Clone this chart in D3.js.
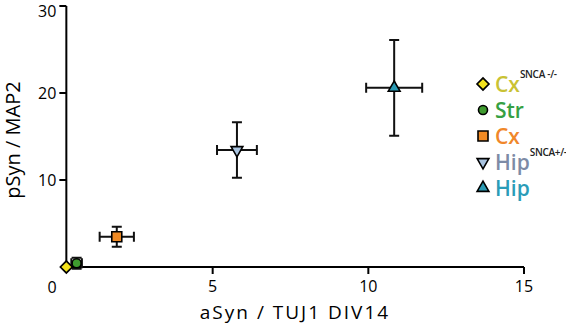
<!DOCTYPE html>
<html><head><meta charset="utf-8">
<script src="https://cdn.jsdelivr.net/npm/d3@7"></script>
<style>body{margin:0;background:#fff}svg{display:block}text{font-family:"Open Sans",sans-serif}</style>
</head><body><svg id="c" width="566" height="325"></svg>
<script>
const groups = ["CxSNCA", "Str", "Cx", "HipSNCA", "Hip"];
const labels = ["Cx", "Str", "Cx", "Hip", "Hip"];
const superscripts = ["SNCA -/-", "", "", "SNCA+/-", ""];
const xVals = [0.3, 0.63, 1.92, 5.78, 10.83];
const yVals = [0.0, 0.43, 3.48, 13.45, 20.6];
const xErr = [0, 0.17, 0.55, 0.64, 0.9];
const yErr = [0, 0.62, 1.15, 3.2, 5.5];
const xTicks = [5, 10, 15];
const yTicks = [10, 20, 30];
const fills = ["#f3e21c", "#3f9b2f", "#f08a24", "#a9c3df", "#2b9ab3"];
const textColors = ["#c9c234", "#36a043", "#f0872a", "#7d8ba6", "#2a9cb8"];
const shapes = ["diamond", "circle", "square", "triDown", "triUp"];

const svg = d3.select("#c");
const x = d3.scaleLinear().domain([0, 15]).range([57, 524]);
const y = d3.scaleLinear().domain([0, 30]).range([267, 6]);
const yAxisAt = 0.3;

// axes
const gx = svg.append("g").attr("transform", `translate(0,${y(0)})`);
gx.append("line").attr("x1", x(yAxisAt)).attr("x2", x(15)).attr("stroke", "#000").attr("stroke-width", 2);
gx.selectAll("line.t").data(xTicks).join("line").attr("class","t")
  .attr("x1", d => x(d)).attr("x2", d => x(d)).attr("y1", 0).attr("y2", 7)
  .attr("stroke", "#000").attr("stroke-width", 2);
gx.selectAll("text").data(xTicks).join("text")
  .attr("x", d => x(d)).attr("y", 25).attr("text-anchor", "middle")
  .attr("font-size", 16).text(d => d);

const gy = svg.append("g").attr("transform", `translate(${x(yAxisAt)},0)`);
gy.append("line").attr("y1", y(0)).attr("y2", y(30)).attr("stroke", "#000").attr("stroke-width", 2);
gy.selectAll("line.t").data(yTicks).join("line").attr("class","t")
  .attr("y1", d => y(d)).attr("y2", d => y(d)).attr("x1", 0).attr("x2", -7)
  .attr("stroke", "#000").attr("stroke-width", 2);
gy.selectAll("text").data(yTicks).join("text")
  .attr("x", -10).attr("y", d => y(d)).attr("dy", d => d === 30 ? "0.7em" : "0.36em").attr("text-anchor", "end")
  .attr("font-size", 16).text(d => d);

svg.append("text").attr("x", 52).attr("y", 293).attr("text-anchor", "middle").attr("font-size", 16).text("0");

svg.append("text").attr("x", 295).attr("y", 319).attr("text-anchor", "middle")
  .attr("font-size", 19).attr("letter-spacing", 2).text("aSyn / TUJ1 DIV14");
svg.append("text").attr("transform", "translate(20,140) rotate(-90)").attr("text-anchor", "middle")
  .attr("font-size", 20).text("pSyn / MAP2");

function symPath(s) {
  const m = {diamond: [d3.symbolSquare, 72], circle: [d3.symbolCircle, 64], square: [d3.symbolSquare, 100],
             triDown: [d3.symbolTriangle, 60], triUp: [d3.symbolTriangle, 60]};
  return d3.symbol(m[s][0], m[s][1])();
}
function symRot(s) { return s === "diamond" ? 45 : s === "triDown" ? 180 : 0; }

// error bars
const cap = 5;
const data = groups.map((g, i) => ({i, x: xVals[i], y: yVals[i], ex: xErr[i], ey: yErr[i]}));
const eb = svg.append("g").attr("stroke", "#111").attr("stroke-width", 2).attr("fill", "none");
data.filter(d => d.ex > 0 || d.ey > 0).forEach(d => {
  const cx = x(d.x), cy = y(d.y);
  const xl = x(d.x - d.ex), xr = x(d.x + d.ex), yt = y(d.y + d.ey), yb = y(d.y - d.ey);
  eb.append("path").attr("d",
    `M${xl},${cy}H${xr}M${xl},${cy-cap}V${cy+cap}M${xr},${cy-cap}V${cy+cap}` +
    `M${cx},${yt}V${yb}M${cx-cap},${yt}H${cx+cap}M${cx-cap},${yb}H${cx+cap}`);
});

// markers
svg.append("g").selectAll("path").data(data).join("path")
  .attr("d", d => symPath(shapes[d.i]))
  .attr("transform", d => `translate(${x(d.x)},${y(d.y)}) rotate(${symRot(shapes[d.i])})`)
  .attr("fill", d => fills[d.i]).attr("stroke", "#000").attr("stroke-width", 1.6);

// legend
const lg = svg.append("g");
const legY = d3.scaleLinear().domain([0, 4]).range([84, 188]);
groups.forEach((g, i) => {
  const yy = legY(i);
  lg.append("path").attr("d", symPath(shapes[i]))
    .attr("transform", `translate(483,${yy}) rotate(${symRot(shapes[i])})`)
    .attr("fill", fills[i]).attr("stroke", "#000").attr("stroke-width", 1.6);
  const t = lg.append("text").attr("x", 495).attr("y", yy).attr("dy", "0.36em")
    .attr("font-size", 21).attr("font-weight", 600).attr("fill", textColors[i]).text(labels[i]);
  if (superscripts[i]) {
    const w = t.node().getComputedTextLength();
    lg.append("text").attr("x", 495 + w + 0).attr("y", yy - 6)
      .attr("font-size", 10).attr("font-weight", 600).attr("letter-spacing", -0.3).attr("fill", "#222").text(superscripts[i]);
  }
});
</script></body></html>
